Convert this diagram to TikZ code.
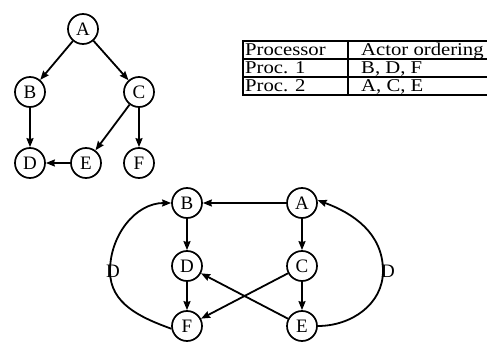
\documentclass[tikz,border=0pt]{standalone}
\usepackage{fontspec}
\usepackage{graphicx}
\setmainfont{Liberation Serif}
\usetikzlibrary{arrows.meta}
% table entries are set slightly widened
\newcommand\widecell[1]{\scalebox{1.15}[1]{#1}}
\begin{document}
\begin{tikzpicture}[x=1pt,y=1pt,
  actor/.style={circle,draw,line width=1.7pt,minimum size=30pt,inner sep=0pt,
    font=\fontsize{19}{19}\selectfont},
  edge/.style={line width=1.8pt,-{Stealth[length=9pt,width=7pt,inset=1pt]}},
  delay/.style={inner sep=0pt,font=\fontsize{19}{19}\selectfont},
  cell/.style={anchor=base west,inner sep=0pt,font=\fontsize{18}{18}\selectfont},
  rule/.style={line width=1.1pt},
  frame/.style={line width=1.9pt},
]
\useasboundingbox (0,0) rectangle (487,343);

% precedence graph
\node[actor] (a1) at (83,314) {A};
\node[actor] (b1) at (30,251) {B};
\node[actor] (c1) at (139,251) {C};
\node[actor] (d1) at (30,180) {D};
\node[actor] (e1) at (86,180) {E};
\node[actor] (f1) at (139,180) {F};
\draw[edge] (a1) -- (b1);
\draw[edge] (a1) -- (c1);
\draw[edge] (b1) -- (d1);
\draw[edge] (c1) -- (e1);
\draw[edge] (c1) -- (f1);
\draw[edge] (e1) -- (d1);

% processor assignment table
\draw[frame] (487,302) -- (243,302) -- (243,248) -- (487,248);
\draw[rule] (243,284) -- (487,284) (243,266) -- (487,266) (348,302) -- (348,248);
\node[cell] (h1) at (245,287.5) {\widecell{Processor}};
\node[cell] (h2) at (361,287.5) {\widecell{Actor ordering}};
\node[cell] (p1) at (245,269.5) {\widecell{Proc. 1}};
\node[cell] (o1) at (361,269.5) {\widecell{B, D, F}};
\node[cell] (p2) at (245,251.5) {\widecell{Proc. 2}};
\node[cell] (o2) at (361,251.5) {\widecell{A, C, E}};

% synchronization graph
\node[actor] (b2) at (187,140) {B};
\node[actor] (a2) at (302,140) {A};
\node[actor] (d2) at (187,77) {D};
\node[actor] (c2) at (302,77) {C};
\node[actor] (f2) at (187,17) {F};
\node[actor] (e2) at (302,17) {E};
\draw[edge] (a2) -- (b2);
\draw[edge] (b2) -- (d2);
\draw[edge] (d2) -- (f2);
\draw[edge] (a2) -- (c2);
\draw[edge] (c2) -- (e2);
\draw[edge] (c2) -- (f2);
\draw[edge] (e2) -- (d2);

% inter-processor feedback edges with delays
\coordinate (dl) at (110,72);
\coordinate (dr) at (383,72);
\draw[edge] (f2.190) to[out=160,in=-90] (dl) to[out=90,in=180] (b2.180);
\draw[edge] (e2.0) to[out=0,in=-90] (dr) to[out=90,in=-20] (a2.10);
\node[delay] (dlab1) at (113,72) {D};
\node[delay] (dlab2) at (388,72) {D};
\end{tikzpicture}
\end{document}
